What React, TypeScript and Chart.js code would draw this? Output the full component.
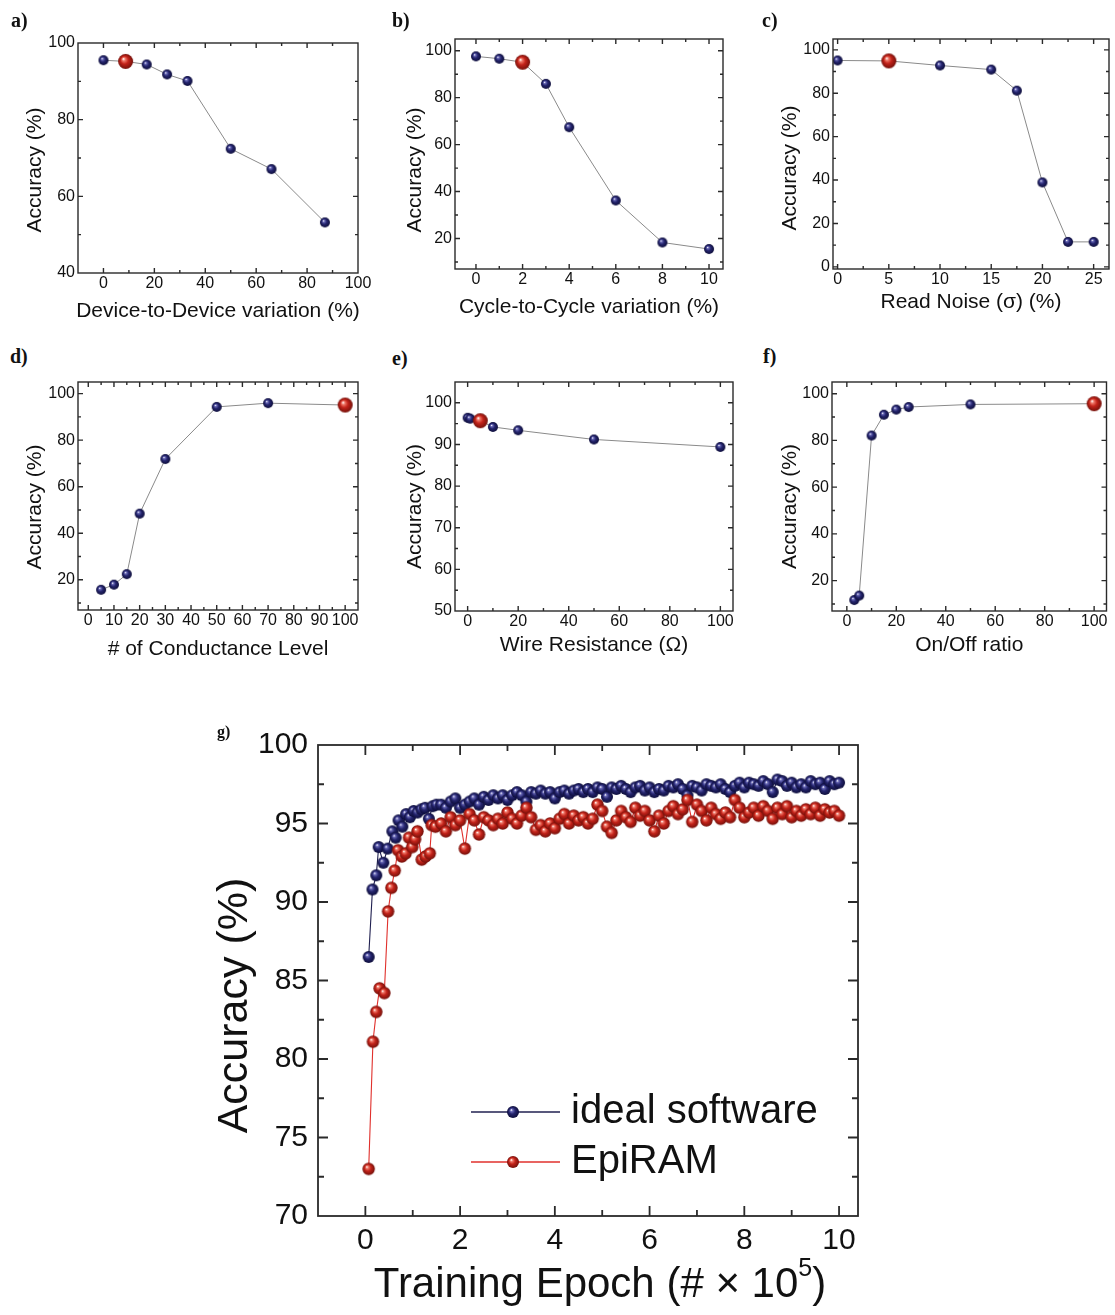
import React, { useEffect, useRef } from 'react';
import { Chart, registerables } from 'chart.js';
Chart.register(...registerables);

const FONT = '"Liberation Sans", Arial, Helvetica, sans-serif';

// ---------------- data ----------------
const aVariation = [0, 8.7, 17, 25, 33, 50, 66, 87];
const aAccuracy = [95.5, 95.2, 94.4, 91.8, 90.1, 72.4, 67.1, 53.2];
const aEpiIndex = 1;
const aXTicks = [0, 20, 40, 60, 80, 100];
const aYTicks = [40, 60, 80, 100];

const bVariation = [0, 1, 2, 3, 4, 6, 8, 10];
const bAccuracy = [97.6, 96.6, 95.1, 85.9, 67.4, 36.2, 18.3, 15.5];
const bEpiIndex = 2;
const bXTicks = [0, 2, 4, 6, 8, 10];
const bYTicks = [20, 40, 60, 80, 100];

const cNoise = [0, 5, 10, 15, 17.5, 20, 22.5, 25];
const cAccuracy = [95.1, 94.9, 92.8, 90.9, 81.2, 38.9, 11.5, 11.5];
const cEpiIndex = 1;
const cXTicks = [0, 5, 10, 15, 20, 25];
const cYTicks = [0, 20, 40, 60, 80, 100];

const dLevels = [5, 10, 15, 20, 30, 50, 70, 100];
const dAccuracy = [15.7, 17.9, 22.4, 48.4, 71.9, 94.3, 95.9, 95.1];
const dEpiIndex = 7;
const dXTicks = [0, 10, 20, 30, 40, 50, 60, 70, 80, 90, 100];
const dYTicks = [20, 40, 60, 80, 100];

const eResistance = [0, 1, 5, 10, 20, 50, 100];
const eAccuracy = [96.4, 96.2, 95.7, 94.2, 93.4, 91.2, 89.4];
const eEpiIndex = 2;
const eXTicks = [0, 20, 40, 60, 80, 100];
const eYTicks = [50, 60, 70, 80, 90, 100];

const fRatio = [3, 5, 10, 15, 20, 25, 50, 100];
const fAccuracy = [11.7, 13.6, 82.1, 91.0, 93.2, 94.3, 95.4, 95.7];
const fEpiIndex = 7;
const fXTicks = [0, 20, 40, 60, 80, 100];
const fYTicks = [20, 40, 60, 80, 100];

const gLateEpoch = [
  1.6, 1.7, 1.8, 1.9, 2.0, 2.1, 2.2, 2.3, 2.4, 2.5, 2.6, 2.7, 2.8, 2.9, 3.0, 3.1, 3.2, 3.3, 3.4, 3.5,
  3.6, 3.7, 3.8, 3.9, 4.0, 4.1, 4.2, 4.3, 4.4, 4.5, 4.6, 4.7, 4.8, 4.9, 5.0, 5.1, 5.2, 5.3, 5.4, 5.5,
  5.6, 5.7, 5.8, 5.9, 6.0, 6.1, 6.2, 6.3, 6.4, 6.5, 6.6, 6.7, 6.8, 6.9, 7.0, 7.1, 7.2, 7.3, 7.4, 7.5,
  7.6, 7.7, 7.8, 7.9, 8.0, 8.1, 8.2, 8.3, 8.4, 8.5, 8.6, 8.7, 8.8, 8.9, 9.0, 9.1, 9.2, 9.3, 9.4, 9.5,
  9.6, 9.7, 9.8, 9.9, 10.0,
];
const gSoftwareEarlyEpoch = [0.07, 0.15, 0.23, 0.28, 0.38, 0.47, 0.57, 0.64, 0.70, 0.78, 0.86, 0.94, 1.02, 1.10, 1.18, 1.26, 1.34, 1.42, 1.50];
const gSoftwareAcc = [
  86.5, 90.8, 91.7, 93.5, 92.5, 93.4, 94.5, 94.1, 95.2, 94.8, 95.6, 95.4, 95.8, 95.7, 95.9, 96.0, 95.3, 96.1, 96.2,
  96.2, 96.0, 96.4, 96.6, 96.0, 96.2, 96.4, 96.6, 96.2, 96.7, 96.5, 96.8, 96.6, 96.8, 96.5, 96.8, 97.0, 96.8, 96.4, 97.0,
  96.9, 97.1, 96.9, 97.0, 96.6, 97.0, 97.1, 96.9, 97.1, 97.2, 97.0, 97.2, 97.0, 97.3, 97.2, 96.7, 97.3, 97.2, 97.4, 97.2,
  97.0, 97.3, 97.4, 97.1, 97.3, 97.0, 97.2, 97.1, 97.4, 97.3, 97.5, 97.2, 96.8, 97.4, 97.3, 97.1, 97.5, 97.4, 97.3, 97.5,
  97.2, 97.0, 97.4, 97.6, 97.3, 97.6, 97.5, 97.4, 97.7, 97.5, 97.0, 97.8, 97.7, 97.4, 97.6, 97.3, 97.5, 97.3, 97.7, 97.5,
  97.6, 97.2, 97.7, 97.5, 97.6,
];
const gEpiEarlyEpoch = [0.07, 0.16, 0.23, 0.30, 0.40, 0.48, 0.55, 0.62, 0.69, 0.77, 0.85, 0.92, 0.99, 1.05, 1.10, 1.19, 1.27, 1.36, 1.40, 1.48];
const gEpiAcc = [
  73.0, 81.1, 83.0, 84.5, 84.2, 89.4, 90.9, 92.0, 93.3, 92.9, 93.1, 94.1, 93.5, 94.0, 94.5, 92.7, 92.9, 93.1, 94.9, 94.8,
  95.0, 94.5, 95.4, 94.9, 95.2, 93.4, 95.6, 95.2, 94.3, 95.4, 95.2, 94.9, 95.3, 95.0, 95.7, 95.3, 95.0, 95.5, 96.0, 95.4,
  94.6, 94.9, 94.5, 95.0, 94.7, 95.3, 95.6, 95.0, 95.5, 95.2, 95.4, 95.0, 95.3, 96.2, 95.8, 94.8, 94.4, 95.2, 95.8, 95.4,
  95.1, 96.0, 95.5, 95.8, 95.2, 94.5, 95.5, 95.0, 95.8, 96.1, 95.6, 95.9, 96.5, 95.1, 96.2, 95.8, 95.2, 96.0, 95.6, 95.3,
  95.7, 95.4, 96.5, 96.0, 95.4, 95.7, 96.0, 95.5, 96.1, 95.8, 95.3, 96.0, 95.6, 96.1, 95.4, 95.8, 95.5, 95.9, 95.6, 96.0,
  95.5, 95.9, 95.7, 95.8, 95.5,
];
const gSoftwareEpoch = [...gSoftwareEarlyEpoch, ...gLateEpoch];
const gEpiEpoch = [...gEpiEarlyEpoch, ...gLateEpoch];
const gXTicks = [0, 2, 4, 6, 8, 10];
const gYTicks = [70, 75, 80, 85, 90, 95, 100];
const gSeriesNames = ['ideal software', 'EpiRAM'];

// ---------------- helpers ----------------
type Pal = { hi: string; mid: string; lo: string };
const BLUE: Pal = { hi: '#6a6ab8', mid: '#25256e', lo: '#0d0d3a' };
const RED: Pal = { hi: '#f07a6a', mid: '#c4231a', lo: '#74100a' };

function makeSphere(r: number, pal: Pal) {
  const s = Math.ceil(r * 2 + 2);
  const c = document.createElement('canvas');
  c.width = s;
  c.height = s;
  const x = c.getContext('2d')!;
  const cx = s / 2, cy = s / 2;
  const g = x.createRadialGradient(cx - r * 0.3, cy - r * 0.35, r * 0.04, cx, cy, r);
  g.addColorStop(0, '#ffffff');
  g.addColorStop(0.18, pal.hi);
  g.addColorStop(0.5, pal.mid);
  g.addColorStop(1, pal.lo);
  x.fillStyle = g;
  x.beginPath();
  x.arc(cx, cy, r, 0, Math.PI * 2);
  x.fill();
  return c;
}

function minorsOf(t: number[]) {
  const out: number[] = [];
  for (let i = 0; i < t.length - 1; i++) out.push((t[i] + t[i + 1]) / 2);
  if (t.length > 1) {
    out.push(t[0] - (t[1] - t[0]) / 2);
    const n = t.length;
    out.push(t[n - 1] + (t[n - 1] - t[n - 2]) / 2);
  }
  return out;
}

type Def = {
  id: string;
  L: number; T: number; R: number; B: number;
  yW: number; xH: number; padT: number; padR: number;
  xMin: number; xMax: number; yMin: number; yMax: number;
  xTicks: number[]; yTicks: number[];
  tickSize: number; tickPadX: number; tickPadY: number;
  xTitleParts: { text: string; sup?: boolean }[];
  yTitle: string;
  xTitleSize: number; yTitleSize: number;
  xDist: number; yDist: number; yShift: number; xShift: number;
  major: number; minor: number; frameWidth: number;
  legend?: { items: number[]; x1: number; x2: number; xm: number; xt: number; y0: number; dy: number; size: number };
  makeDatasets: () => any[];
};

function makeFramePlugin(d: Def) {
  return {
    id: 'frame_' + d.id,
    afterDraw(chart: any) {
      const { ctx, chartArea: a, scales } = chart;
      const xs = scales.x, ys = scales.y;
      ctx.save();
      ctx.strokeStyle = '#2a2a2a';
      ctx.lineWidth = d.frameWidth;
      ctx.beginPath();
      const tx = (v: number, len: number) => {
        const p = xs.getPixelForValue(v);
        if (p <= a.left + 1 || p >= a.right - 1) return;
        ctx.moveTo(p, a.bottom); ctx.lineTo(p, a.bottom - len);
        ctx.moveTo(p, a.top); ctx.lineTo(p, a.top + len);
      };
      const ty = (v: number, len: number) => {
        const p = ys.getPixelForValue(v);
        if (p <= a.top + 1 || p >= a.bottom - 1) return;
        ctx.moveTo(a.left, p); ctx.lineTo(a.left + len, p);
        ctx.moveTo(a.right, p); ctx.lineTo(a.right - len, p);
      };
      d.xTicks.forEach((v) => tx(v, d.major));
      minorsOf(d.xTicks).forEach((v) => tx(v, d.minor));
      d.yTicks.forEach((v) => ty(v, d.major));
      minorsOf(d.yTicks).forEach((v) => ty(v, d.minor));
      ctx.stroke();
      ctx.strokeRect(a.left, a.top, a.right - a.left, a.bottom - a.top);

      // axis titles
      ctx.fillStyle = '#111';
      ctx.textBaseline = 'middle';
      const cy = a.bottom + d.xDist;
      const cx = (a.left + a.right) / 2 + d.xShift;
      const widths = d.xTitleParts.map((p) => {
        ctx.font = `${p.sup ? Math.round(d.xTitleSize * 0.6) : d.xTitleSize}px ${FONT}`;
        return ctx.measureText(p.text).width;
      });
      const total = widths.reduce((s, w) => s + w, 0);
      let px = cx - total / 2;
      ctx.textAlign = 'left';
      d.xTitleParts.forEach((p, i) => {
        ctx.font = `${p.sup ? Math.round(d.xTitleSize * 0.6) : d.xTitleSize}px ${FONT}`;
        ctx.fillText(p.text, px, p.sup ? cy - d.xTitleSize * 0.38 : cy);
        px += widths[i];
      });
      ctx.save();
      ctx.translate(a.left - d.yDist, (a.top + a.bottom) / 2 + d.yShift);
      ctx.rotate(-Math.PI / 2);
      ctx.textAlign = 'center';
      ctx.font = `${d.yTitleSize}px ${FONT}`;
      ctx.fillText(d.yTitle, 0, 0);
      ctx.restore();

      // legend
      if (d.legend) {
        const lg = d.legend;
        lg.items.forEach((di, i) => {
          const ds = chart.data.datasets[di];
          const y = a.top + lg.y0 + i * lg.dy;
          ctx.strokeStyle = ds.borderColor;
          ctx.lineWidth = 1.3;
          ctx.beginPath();
          ctx.moveTo(a.left + lg.x1, y);
          ctx.lineTo(a.left + lg.x2, y);
          ctx.stroke();
          const img = ds.legendMarker;
          ctx.drawImage(img, a.left + lg.xm - img.width / 2, y - img.height / 2);
          ctx.fillStyle = '#111';
          ctx.textAlign = 'left';
          ctx.font = `${lg.size}px ${FONT}`;
          ctx.fillText(ds.label, a.left + lg.xt, y);
        });
      }
      ctx.restore();
    },
  };
}

function seriesDatasets(xs: number[], ys: number[], hi: number) {
  return () => {
    const blue = makeSphere(5, BLUE);
    const red = makeSphere(7.5, RED);
    return [
      {
        data: xs.map((x, i) => ({ x, y: ys[i] })),
        showLine: true,
        borderColor: '#8a8a8a',
        borderWidth: 1,
        pointStyle: (c: any) => (c.dataIndex === hi ? red : blue),
        pointRadius: (c: any) => (c.dataIndex === hi ? 7.5 : 5),
      },
    ];
  };
}

const SMALL = {
  yW: 75, xH: 58, padT: 12,
  tickSize: 16, tickPadX: 1, tickPadY: 3,
  xTitleSize: 21, yTitleSize: 21,
  xShift: 0, major: 5, minor: 3, frameWidth: 1.4,
};

const DEFS: Def[] = [
  {
    id: 'a', ...SMALL, L: 78, T: 43, R: 358, B: 273, padR: 18,
    xMin: -10, xMax: 100, yMin: 40, yMax: 100, xTicks: aXTicks, yTicks: aYTicks,
    xTitleParts: [{ text: 'Device-to-Device variation (%)' }], yTitle: 'Accuracy (%)',
    xDist: 38, yDist: 43, yShift: 12,
    makeDatasets: seriesDatasets(aVariation, aAccuracy, aEpiIndex),
  },
  {
    id: 'b', ...SMALL, L: 455, T: 39, R: 723, B: 269, padR: 18,
    xMin: -0.9, xMax: 10.6, yMin: 7, yMax: 105, xTicks: bXTicks, yTicks: bYTicks,
    xTitleParts: [{ text: 'Cycle-to-Cycle variation (%)' }], yTitle: 'Accuracy (%)',
    xDist: 38, yDist: 40, yShift: 16,
    makeDatasets: seriesDatasets(bVariation, bAccuracy, bEpiIndex),
  },
  {
    id: 'c', ...SMALL, L: 833, T: 39, R: 1113, B: 269, padR: 2,
    xMin: -0.45, xMax: 26.5, yMin: -1, yMax: 105, xTicks: cXTicks, yTicks: cYTicks,
    xTitleParts: [{ text: 'Read Noise (σ) (%)' }], yTitle: 'Accuracy (%)',
    xDist: 33, yDist: 43, yShift: 14,
    makeDatasets: seriesDatasets(cNoise, cAccuracy, cEpiIndex),
  },
  {
    id: 'd', ...SMALL, L: 78, T: 382, R: 358, B: 610, padR: 18,
    xMin: -4, xMax: 105, yMin: 7, yMax: 105, xTicks: dXTicks, yTicks: dYTicks,
    xTitleParts: [{ text: '# of Conductance Level' }], yTitle: 'Accuracy (%)',
    xDist: 39, yDist: 43, yShift: 11,
    makeDatasets: seriesDatasets(dLevels, dAccuracy, dEpiIndex),
  },
  {
    id: 'e', ...SMALL, L: 455, T: 382, R: 733, B: 611, padR: 18,
    xMin: -5, xMax: 105, yMin: 50, yMax: 105, xTicks: eXTicks, yTicks: eYTicks,
    xTitleParts: [{ text: 'Wire Resistance (Ω)' }], yTitle: 'Accuracy (%)',
    xDist: 34, yDist: 40, yShift: 10,
    makeDatasets: seriesDatasets(eResistance, eAccuracy, eEpiIndex),
  },
  {
    id: 'f', ...SMALL, L: 832, T: 382, R: 1113, B: 611, padR: 2,
    xMin: -6, xMax: 105, yMin: 7, yMax: 105, xTicks: fXTicks, yTicks: fYTicks,
    xTitleParts: [{ text: 'On/Off ratio' }], yTitle: 'Accuracy (%)',
    xDist: 34, yDist: 42, yShift: 10,
    makeDatasets: seriesDatasets(fRatio, fAccuracy, fEpiIndex),
  },
  {
    id: 'g', L: 318, T: 745, R: 858, B: 1216, yW: 118, xH: 99, padT: 20, padR: 32,
    xMin: -1, xMax: 10.4, yMin: 70, yMax: 100, xTicks: gXTicks, yTicks: gYTicks,
    tickSize: 30, tickPadX: 7, tickPadY: 10,
    xTitleParts: [{ text: 'Training Epoch (# × 10' }, { text: '5', sup: true }, { text: ')' }],
    yTitle: 'Accuracy (%)',
    xTitleSize: 42, yTitleSize: 43,
    xDist: 69, yDist: 83, yShift: 25, xShift: 12,
    major: 10, minor: 6, frameWidth: 1.8,
    legend: { items: [1, 0], x1: 153, x2: 242, xm: 195, xt: 253, y0: 367, dy: 50, size: 40 },
    makeDatasets: () => {
      const blue = makeSphere(6, BLUE);
      const red = makeSphere(6.2, RED);
      const blueL = makeSphere(6, BLUE);
      const redL = makeSphere(6, RED);
      return [
        {
          label: gSeriesNames[1],
          data: gEpiEpoch.map((x, i) => ({ x, y: gEpiAcc[i] })),
          showLine: true, borderColor: '#e0302c', borderWidth: 1.1,
          pointStyle: red, pointRadius: 6.2, order: 0, legendMarker: redL,
        },
        {
          label: gSeriesNames[0],
          data: gSoftwareEpoch.map((x, i) => ({ x, y: gSoftwareAcc[i] })),
          showLine: true, borderColor: '#202050', borderWidth: 1.1,
          pointStyle: blue, pointRadius: 6, order: 1, legendMarker: blueL,
        },
      ];
    },
  },
];

function Panel({ d }: { d: Def }) {
  const ref = useRef<HTMLCanvasElement>(null);
  useEffect(() => {
    if (!ref.current) return;
    const tickFont = { family: FONT, size: d.tickSize };
    const chart = new Chart(ref.current, {
      type: 'scatter',
      data: { datasets: d.makeDatasets() },
      options: {
        animation: false,
        responsive: false,
        events: [],
        layout: { padding: { top: d.padT, right: d.padR, left: 0, bottom: 0 } },
        plugins: { legend: { display: false }, tooltip: { enabled: false } },
        scales: {
          x: {
            type: 'linear', min: d.xMin, max: d.xMax,
            grid: { display: false, drawTicks: false },
            border: { display: false },
            ticks: { font: tickFont, color: '#111', padding: d.tickPadX, autoSkip: false, maxRotation: 0, minRotation: 0 },
            afterBuildTicks: (s: any) => { s.ticks = d.xTicks.map((v) => ({ value: v })); },
            afterFit: (s: any) => { s.height = d.xH; s.paddingLeft = 0; s.paddingRight = 0; },
          },
          y: {
            type: 'linear', min: d.yMin, max: d.yMax,
            grid: { display: false, drawTicks: false },
            border: { display: false },
            ticks: { font: tickFont, color: '#111', padding: d.tickPadY, autoSkip: false },
            afterBuildTicks: (s: any) => { s.ticks = d.yTicks.map((v) => ({ value: v })); },
            afterFit: (s: any) => { s.width = d.yW; s.paddingTop = 0; s.paddingBottom = 0; },
          },
        },
      } as any,
      plugins: [makeFramePlugin(d)],
    });
    return () => chart.destroy();
  }, []);
  const w = d.R - d.L + d.yW + d.padR;
  const h = d.B - d.T + d.xH + d.padT;
  return (
    <canvas
      ref={ref}
      width={w}
      height={h}
      style={{ position: 'absolute', left: d.L - d.yW, top: d.T - d.padT, width: w, height: h }}
    />
  );
}

const PANEL_LABELS = [
  { text: 'a)', x: 11, y: 10, size: 20 },
  { text: 'b)', x: 392, y: 10, size: 20 },
  { text: 'c)', x: 762, y: 10, size: 20 },
  { text: 'd)', x: 10, y: 346, size: 20 },
  { text: 'e)', x: 392, y: 348, size: 20 },
  { text: 'f)', x: 763, y: 346, size: 20 },
  { text: 'g)', x: 217, y: 724, size: 16 },
];

const labelStyle = (l: { x: number; y: number; size: number }): React.CSSProperties => ({
  position: 'absolute',
  left: l.x,
  top: l.y,
  fontFamily: '"Liberation Serif", "Times New Roman", serif',
  fontWeight: 'bold',
  fontSize: l.size,
  lineHeight: 1,
  color: '#111',
});

export default function App() {
  return (
    <div style={{ position: 'absolute', left: 0, top: 0, width: 1115, height: 1315, background: '#fff', overflow: 'hidden' }}>
      {DEFS.map((d) => (
        <Panel key={d.id} d={d} />
      ))}
      {PANEL_LABELS.map((l) => (
        <div key={l.text} style={labelStyle(l)}>
          {l.text}
        </div>
      ))}
    </div>
  );
}
